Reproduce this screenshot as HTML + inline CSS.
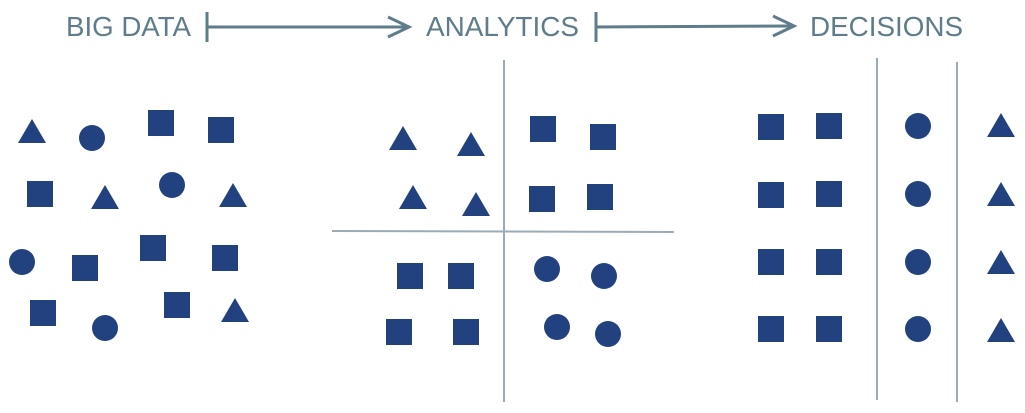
<!DOCTYPE html>
<html><head><meta charset="utf-8"><style>
html,body{margin:0;padding:0;background:#fff;width:1025px;height:413px;overflow:hidden}
svg{display:block}
text{font-family:"Liberation Sans",sans-serif;font-size:28px;fill:#5f7c8a}
</style></head><body>
<svg width="1025" height="413" viewBox="0 0 1025 413">
<defs>
<rect id="s" x="-13" y="-13" width="26" height="26" fill="#21427f"/>
<circle id="c" r="13" fill="#21427f"/>
<polygon id="t" points="0,-12 14,12 -14,12" fill="#21427f"/>
</defs>
<text x="66" y="36" textLength="125" lengthAdjust="spacingAndGlyphs">BIG DATA</text>
<text x="426" y="36" textLength="153" lengthAdjust="spacingAndGlyphs">ANALYTICS</text>
<text x="810" y="36" textLength="153" lengthAdjust="spacingAndGlyphs">DECISIONS</text>
<g stroke="#5f7c8a" stroke-width="3" fill="none">
<line x1="207" y1="12" x2="207" y2="42"/><line x1="207" y1="27" x2="409" y2="27"/>
<polyline points="388,17 409,27 388,37"/>
<line x1="596" y1="12" x2="596" y2="42"/><line x1="596" y1="27" x2="794" y2="26"/>
<polyline points="773,16 794,26 773,36"/>
</g>
<g stroke="#9aabb5" stroke-width="2">
<line x1="504" y1="60" x2="504" y2="402"/>
<line x1="332" y1="231" x2="674" y2="232"/>
<line x1="877" y1="58" x2="877" y2="400"/>
<line x1="957" y1="62" x2="957" y2="402"/>
</g>
<use href="#t" x="32" y="131"/><use href="#c" x="92" y="138"/><use href="#s" x="161" y="123"/><use href="#s" x="221" y="130"/>
<use href="#s" x="40" y="194"/><use href="#t" x="105" y="197"/><use href="#c" x="172" y="185"/><use href="#t" x="233" y="195"/>
<use href="#c" x="22" y="262"/><use href="#s" x="85" y="268"/><use href="#s" x="153" y="248"/><use href="#s" x="225" y="258"/>
<use href="#s" x="43" y="313"/><use href="#c" x="105" y="328"/><use href="#s" x="177" y="305"/><use href="#t" x="235" y="310"/>
<use href="#t" x="403" y="138"/><use href="#t" x="471" y="144"/><use href="#t" x="413" y="197"/><use href="#t" x="476" y="204"/>
<use href="#s" x="543" y="129"/><use href="#s" x="603" y="137"/><use href="#s" x="542" y="199"/><use href="#s" x="600" y="197"/>
<use href="#s" x="410" y="276"/><use href="#s" x="461" y="276"/><use href="#s" x="399" y="332"/><use href="#s" x="466" y="332"/>
<use href="#c" x="547" y="269"/><use href="#c" x="604" y="276"/><use href="#c" x="557" y="327"/><use href="#c" x="608" y="334"/>
<use href="#s" x="771" y="127"/><use href="#s" x="829" y="126"/><use href="#c" x="918" y="126"/><use href="#t" x="1001" y="125"/>
<use href="#s" x="771" y="195"/><use href="#s" x="829" y="194"/><use href="#c" x="918" y="194"/><use href="#t" x="1001" y="194"/>
<use href="#s" x="771" y="262"/><use href="#s" x="829" y="262"/><use href="#c" x="918" y="262"/><use href="#t" x="1001" y="262"/>
<use href="#s" x="771" y="329"/><use href="#s" x="829" y="329"/><use href="#c" x="918" y="329"/><use href="#t" x="1001" y="330"/>
</svg>
</body></html>
